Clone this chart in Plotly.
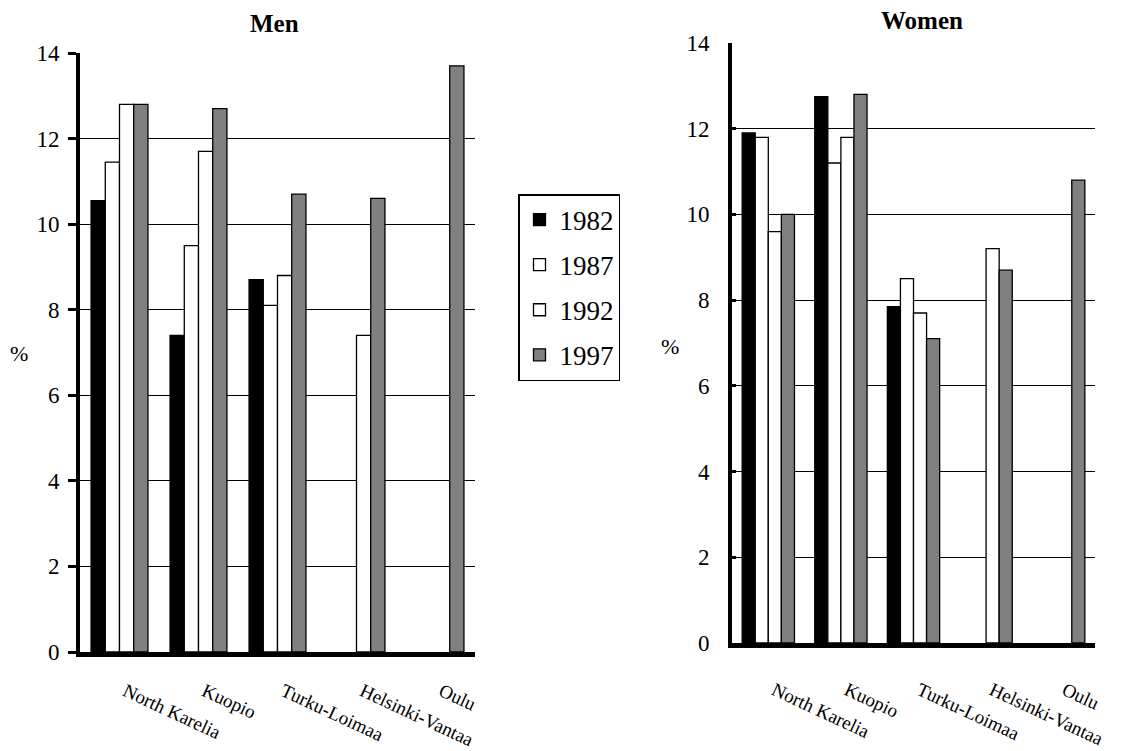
import plotly.graph_objects as go

regions = ["North Karelia", "Kuopio", "Turku-Loimaa", "Helsinki-Vantaa", "Oulu"]
years = ["1982", "1987", "1992", "1997"]

men_1982 = [10.55, 7.4, 8.7, None, None]
men_1987 = [11.45, 9.5, 8.1, None, None]
men_1992 = [12.8, 11.7, 8.8, 7.4, None]
men_1997 = [12.8, 12.7, 10.7, 10.6, 13.7]

women_1982 = [11.9, 12.75, 7.85, None, None]
women_1987 = [11.8, 11.2, 8.5, None, None]
women_1992 = [9.6, 11.8, 7.7, 9.2, None]
women_1997 = [10.0, 12.8, 7.1, 8.7, 10.8]

y_ticks = [0, 2, 4, 6, 8, 10, 12, 14]

colors = ["#000000", "#ffffff", "#ffffff", "#808080"]
FONT = "Liberation Serif"

W, H = 1131, 751
OFF = 8  # page body margin

fig = go.Figure()

men = [men_1982, men_1987, men_1992, men_1997]
women = [women_1982, women_1987, women_1992, women_1997]

for i, (yr, vals) in enumerate(zip(years, men)):
    fig.add_trace(go.Bar(
        x=regions, y=vals, name=yr, xaxis="x", yaxis="y",
        marker=dict(color=colors[i], line=dict(color="black", width=1.3)),
        legendgroup=yr, showlegend=True))
for i, (yr, vals) in enumerate(zip(years, women)):
    fig.add_trace(go.Bar(
        x=regions, y=vals, name=yr, xaxis="x2", yaxis="y2",
        marker=dict(color=colors[i], line=dict(color="black", width=1.3)),
        legendgroup=yr, showlegend=False))

def px_x(p):
    return (p - OFF) / W

def px_y(p):
    return 1 - (p - OFF) / H

yaxis_common = dict(
    range=[0, 14], tickvals=y_ticks, showgrid=True, gridcolor="black", gridwidth=1,
    zeroline=False, showline=True, linecolor="black", linewidth=4,
    tickfont=dict(family=FONT, size=23, color="black"),
    tickcolor="black", tickwidth=3, fixedrange=True, automargin=False,
)
xaxis_common = dict(
    type="category", showgrid=False, zeroline=False, showline=True,
    linecolor="black", linewidth=5, ticks="", tickangle=25,
    tickfont=dict(family=FONT, size=19, color="black"), automargin=False,
    ticklabelshift=6,
)

fig.update_layout(
    width=W, height=H,
    margin=dict(l=0, r=0, t=0, b=0, pad=0, autoexpand=False),
    paper_bgcolor="white", plot_bgcolor="white",
    barmode="group", bargap=0.28, bargroupgap=0,
    font=dict(family=FONT, color="black"),
    xaxis=dict(domain=[px_x(80), px_x(475)], anchor="y", ticklabelstandoff=16, **xaxis_common),
    yaxis=dict(domain=[px_y(652), px_y(53)], anchor="x", ticks="outside", ticklen=8,
               ticklabelstandoff=4, **yaxis_common),
    xaxis2=dict(domain=[px_x(732), px_x(1095)], anchor="y2", ticklabelstandoff=24, **xaxis_common),
    yaxis2=dict(domain=[px_y(643), px_y(43)], anchor="x2", ticks="inside", ticklen=4,
                ticklabelstandoff=14, **yaxis_common),
    legend=dict(
        x=px_x(518), y=px_y(194), xanchor="left", yanchor="top",
        bordercolor="black", borderwidth=1.5, bgcolor="white",
        font=dict(family=FONT, size=27, color="black"),
        traceorder="grouped", tracegroupgap=7,
    ),
    showlegend=True,
    annotations=[
        dict(text="<b>Men</b>", x=px_x(274), y=px_y(23), xref="paper", yref="paper",
             xanchor="center", yanchor="middle",
             showarrow=False, font=dict(family=FONT, size=25, color="black")),
        dict(text="<b>Women</b>", x=px_x(922), y=px_y(21), xref="paper", yref="paper",
             xanchor="center", yanchor="middle",
             showarrow=False, font=dict(family=FONT, size=25, color="black")),
        dict(text="%", x=px_x(19), y=px_y(354), xref="paper", yref="paper",
             xanchor="center", yanchor="middle",
             showarrow=False, font=dict(family=FONT, size=22, color="black")),
        dict(text="%", x=px_x(670), y=px_y(346), xref="paper", yref="paper",
             xanchor="center", yanchor="middle",
             showarrow=False, font=dict(family=FONT, size=22, color="black")),
    ],
)

fig.write_html("out.html")
